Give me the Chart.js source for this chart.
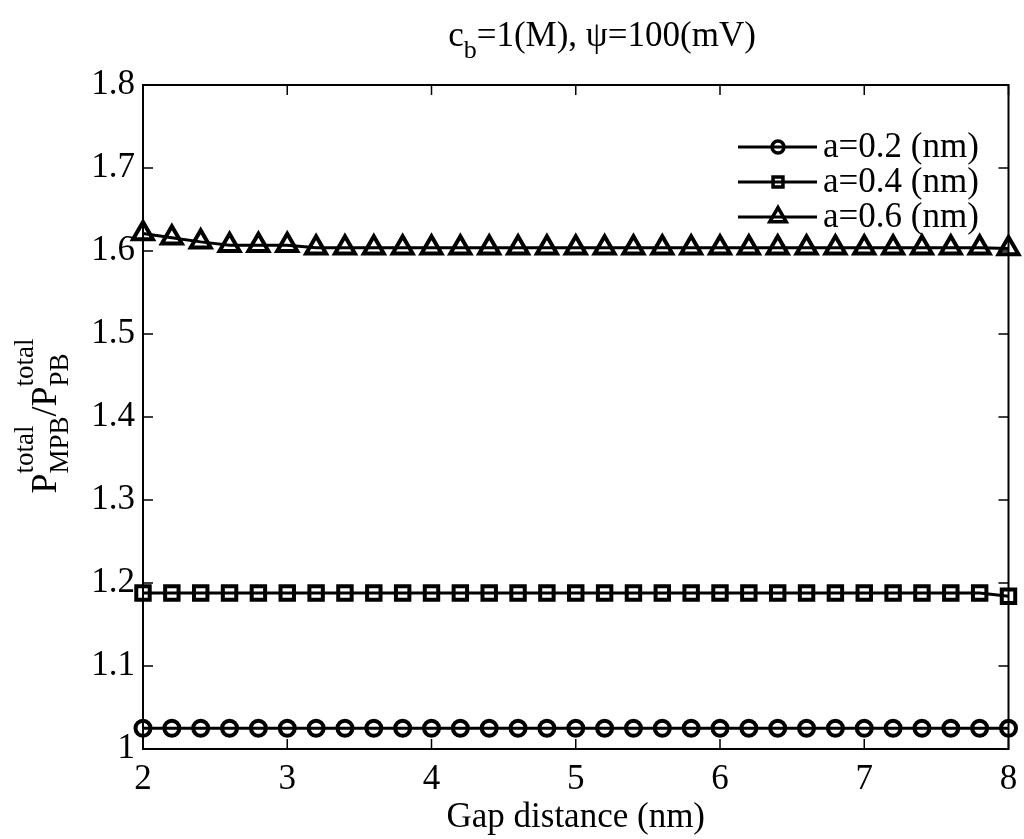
<!DOCTYPE html>
<html><head><meta charset="utf-8">
<script src="https://cdn.jsdelivr.net/npm/chart.js@4"></script>
<style>html,body{margin:0;padding:0;background:#fff;}canvas{display:block}</style>
</head><body>
<canvas id="c" width="1024" height="839"></canvas>
<script>
const gapDistance = [2.0,2.2,2.4,2.6,2.8,3.0,3.2,3.4,3.6,3.8,4.0,4.2,4.4,4.6,4.8,5.0,5.2,5.4,5.6,5.8,6.0,6.2,6.4,6.6,6.8,7.0,7.2,7.4,7.6,7.8,8.0];
const ratioA02 = [1.025,1.025,1.025,1.025,1.025,1.025,1.025,1.025,1.025,1.025,1.025,1.025,1.025,1.025,1.025,1.025,1.025,1.025,1.025,1.025,1.025,1.025,1.025,1.025,1.025,1.025,1.025,1.025,1.025,1.025,1.025];
const ratioA04 = [1.188,1.188,1.188,1.188,1.188,1.188,1.188,1.188,1.188,1.188,1.188,1.188,1.188,1.188,1.188,1.188,1.188,1.188,1.188,1.188,1.188,1.188,1.188,1.188,1.188,1.188,1.188,1.188,1.188,1.188,1.184];
const ratioA06 = [1.621,1.616,1.611,1.607,1.607,1.607,1.604,1.604,1.604,1.604,1.604,1.604,1.604,1.604,1.604,1.604,1.604,1.604,1.604,1.604,1.604,1.604,1.604,1.604,1.604,1.604,1.604,1.604,1.604,1.604,1.603];
const seriesLabels = ['a=0.2 (nm)','a=0.4 (nm)','a=0.6 (nm)'];
const xTickValues = [2,3,4,5,6,7,8];
const yTickValues = [1.0,1.1,1.2,1.3,1.4,1.5,1.6,1.7,1.8];
const chartTitle = {main:'c', sub:'b', rest:'=1(M), \u03c8=100(mV)'};
const xTitle = 'Gap distance (nm)';

const FONT = 'Liberation Serif';
const markerStyles = ['circle','rect','triangle'];
const markerRadius = [7.5, 9.5, 11.5];
const legendRadius = [6, 7, 9.5];

function pts(ys){ return gapDistance.map((x,i)=>({x:x,y:ys[i]})); }
const seriesData = [ratioA02, ratioA04, ratioA06];

const datasets = seriesData.map((ys,i)=>({
  label: seriesLabels[i],
  data: pts(ys),
  borderColor:'#000', borderWidth:3,
  pointStyle: markerStyles[i], pointRadius: markerRadius[i],
  pointBorderWidth:4, pointBorderColor:'#000', pointBackgroundColor:'rgba(0,0,0,0)',
  pointHoverRadius: markerRadius[i],
  fill:false, tension:0, clip:false
}));

function drawMarker(ctx, style, x, y, r){
  ctx.beginPath();
  if(style==='circle'){ ctx.arc(x,y,r,0,Math.PI*2); }
  else if(style==='rect'){ const s=r*Math.SQRT1_2; ctx.rect(x-s,y-s,2*s,2*s); }
  else { const w=r*Math.sqrt(3)/2;
    ctx.moveTo(x, y-r); ctx.lineTo(x+w, y+r/2); ctx.lineTo(x-w, y+r/2); ctx.closePath(); }
  ctx.stroke();
}

const decor = {
  id:'decor',
  afterDraw(chart){
    const ctx = chart.ctx, a = chart.chartArea;
    const xs = chart.scales.x, ys = chart.scales.y;
    ctx.save();
    ctx.strokeStyle='#000'; ctx.lineWidth=2;
    ctx.strokeRect(a.left, a.top, a.right-a.left, a.bottom-a.top);
    const tl = 10;
    ctx.lineWidth=1.5;
    ctx.beginPath();
    xTickValues.forEach(v=>{ const px = xs.getPixelForValue(v);
      ctx.moveTo(px,a.bottom); ctx.lineTo(px,a.bottom-tl);
      ctx.moveTo(px,a.top); ctx.lineTo(px,a.top+tl); });
    yTickValues.forEach(v=>{ const py = ys.getPixelForValue(v);
      ctx.moveTo(a.left,py); ctx.lineTo(a.left+tl,py);
      ctx.moveTo(a.right,py); ctx.lineTo(a.right-tl,py); });
    ctx.stroke();

    // legend
    ctx.fillStyle='#000'; ctx.textBaseline='middle'; ctx.textAlign='left';
    ctx.font = '35px "'+FONT+'"';
    const rows=[147,182,217];
    seriesLabels.forEach((lab,i)=>{
      const y=rows[i];
      ctx.lineWidth=3;
      ctx.beginPath(); ctx.moveTo(738,y); ctx.lineTo(817,y); ctx.stroke();
      ctx.lineWidth=3.5;
      drawMarker(ctx, markerStyles[i], 778, y, legendRadius[i]);
      ctx.fillText(lab, 823, y+1);
    });

    // title with subscript
    ctx.textBaseline='alphabetic';
    const big='35px "'+FONT+'"', small='26px "'+FONT+'"';
    ctx.font=big; const w1=ctx.measureText(chartTitle.main).width;
    ctx.font=small; const w2=ctx.measureText(chartTitle.sub).width;
    ctx.font=big; const w3=ctx.measureText(chartTitle.rest).width;
    let tx = 602 - (w1+w2+w3)/2; const tb=46;
    ctx.font=big; ctx.fillText(chartTitle.main, tx, tb); tx+=w1;
    ctx.font=small; ctx.fillText(chartTitle.sub, tx, tb+12); tx+=w2;
    ctx.font=big; ctx.fillText(chartTitle.rest, tx, tb);

    // y-axis title P^total_MPB / P^total_PB
    const mainF='36px "'+FONT+'"', scrF='27px "'+FONT+'"';
    ctx.font=mainF;
    const wP=ctx.measureText('P').width, wS=ctx.measureText('/').width;
    ctx.font=scrF;
    const wt=ctx.measureText('total').width, wm=ctx.measureText('MPB').width, wpb=ctx.measureText('PB').width;
    const total = wP+Math.max(wt,wm)+wS+wP+Math.max(wt,wpb);
    ctx.translate(56, 416 + total/2);
    ctx.rotate(-Math.PI/2);
    let px=0;
    ctx.font=mainF; ctx.fillText('P',px,0); px+=wP;
    ctx.font=scrF; ctx.fillText('total',px,-23); ctx.fillText('MPB',px,12); px+=Math.max(wt,wm);
    ctx.font=mainF; ctx.fillText('/',px,0); px+=wS;
    ctx.fillText('P',px,0); px+=wP;
    ctx.font=scrF; ctx.fillText('total',px,-23); ctx.fillText('PB',px,12);
    ctx.restore();
  }
};

new Chart(document.getElementById('c'), {
  type:'line',
  data:{datasets},
  options:{
    responsive:false, animation:false, devicePixelRatio:1,
    layout:{padding:{left:0,right:14,top:85,bottom:0}},
    plugins:{legend:{display:false}, title:{display:false}, tooltip:{enabled:false}},
    events:[],
    scales:{
      x:{type:'linear', min:2, max:8,
        afterBuildTicks:s=>{ s.ticks = xTickValues.map(v=>({value:v})); },
        afterFit:s=>{ s.height=90; s.paddingRight=0; s.paddingLeft=0; },
        grid:{display:false, drawTicks:false}, border:{display:false},
        ticks:{color:'#000', font:{family:FONT,size:35}, padding:10, maxRotation:0, callback:v=>String(v)},
        title:{display:true, text:xTitle, color:'#000', font:{family:FONT,size:35}, padding:{top:0,bottom:0}}
      },
      y:{type:'linear', min:1, max:1.8,
        afterBuildTicks:s=>{ s.ticks = yTickValues.map(v=>({value:v})); },
        afterFit:s=>{ s.width=143; s.paddingTop=0; s.paddingBottom=0; },
        grid:{display:false, drawTicks:false}, border:{display:false},
        ticks:{color:'#000', font:{family:FONT,size:35}, padding:8, callback:v=>(v===1?'1':Number(v).toFixed(1))}
      }
    }
  },
  plugins:[decor]
});
</script>
</body></html>
